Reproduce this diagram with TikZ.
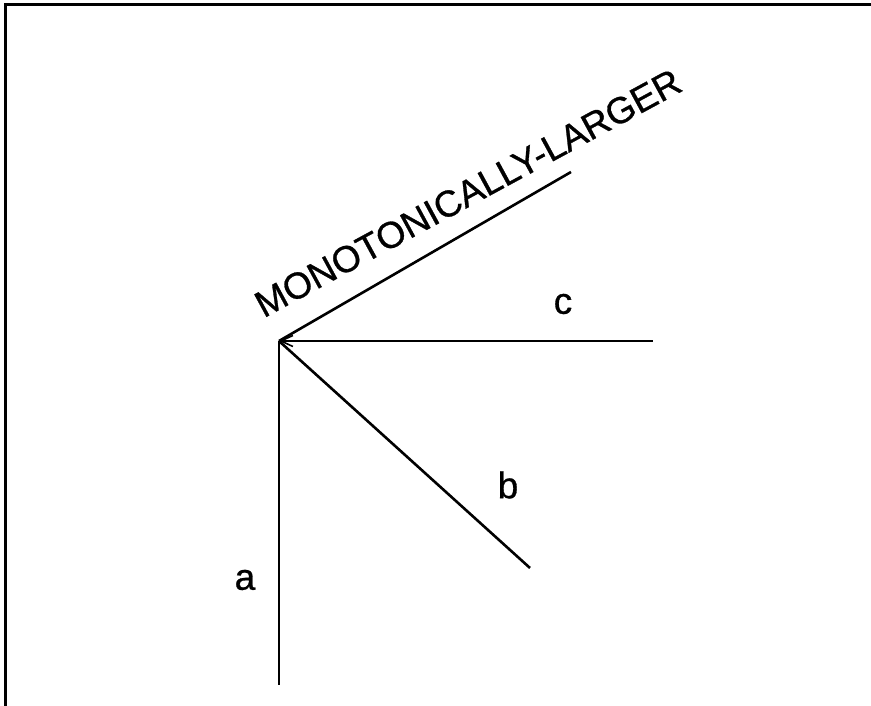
\documentclass[tikz,border=0pt]{standalone}
\usepackage{fontspec}
\setmainfont{Liberation Sans}
\newfontfamily\labelfont{Liberation Sans}[FakeBold=0.8]
\usetikzlibrary{arrows.meta}

\begin{document}
\begin{tikzpicture}[
    x=1pt, y=1pt,
    ln/.style={line width=2.6pt, draw=black},
    lbl/.style={font=\fontsize{37}{44}\labelfont, inner sep=0pt},
    tip/.style={{Straight Barb[length=12pt, width=11pt, line width=1.6pt]}-}
  ]
    \useasboundingbox (0,0) rectangle (871,706);
    \draw[line width=3pt] (871,701) -- (5,701) -- (5,0);

    \coordinate (org) at (279,365);
    \coordinate (aend) at (279,21);
    \coordinate (bend) at (530,138);
    \coordinate (cend) at (653,365);
    \coordinate (mend) at (571,534);

    \draw[ln] (org) -- (aend);
    \draw[ln] (org) -- (bend);
    \draw[ln] (org) -- (mend);
    \draw[ln, tip] (org) -- (cend);

    \node[lbl] (lba) at (245,126) {a};
    \node[lbl] (lbb) at (508,221) {b};
    \node[lbl] (lbc) at (563,402) {c};
    \node[lbl, rotate=28.5] (lbm) at (468,513) {MONOTONICALLY-LARGER};
  \end{tikzpicture}
\end{document}
